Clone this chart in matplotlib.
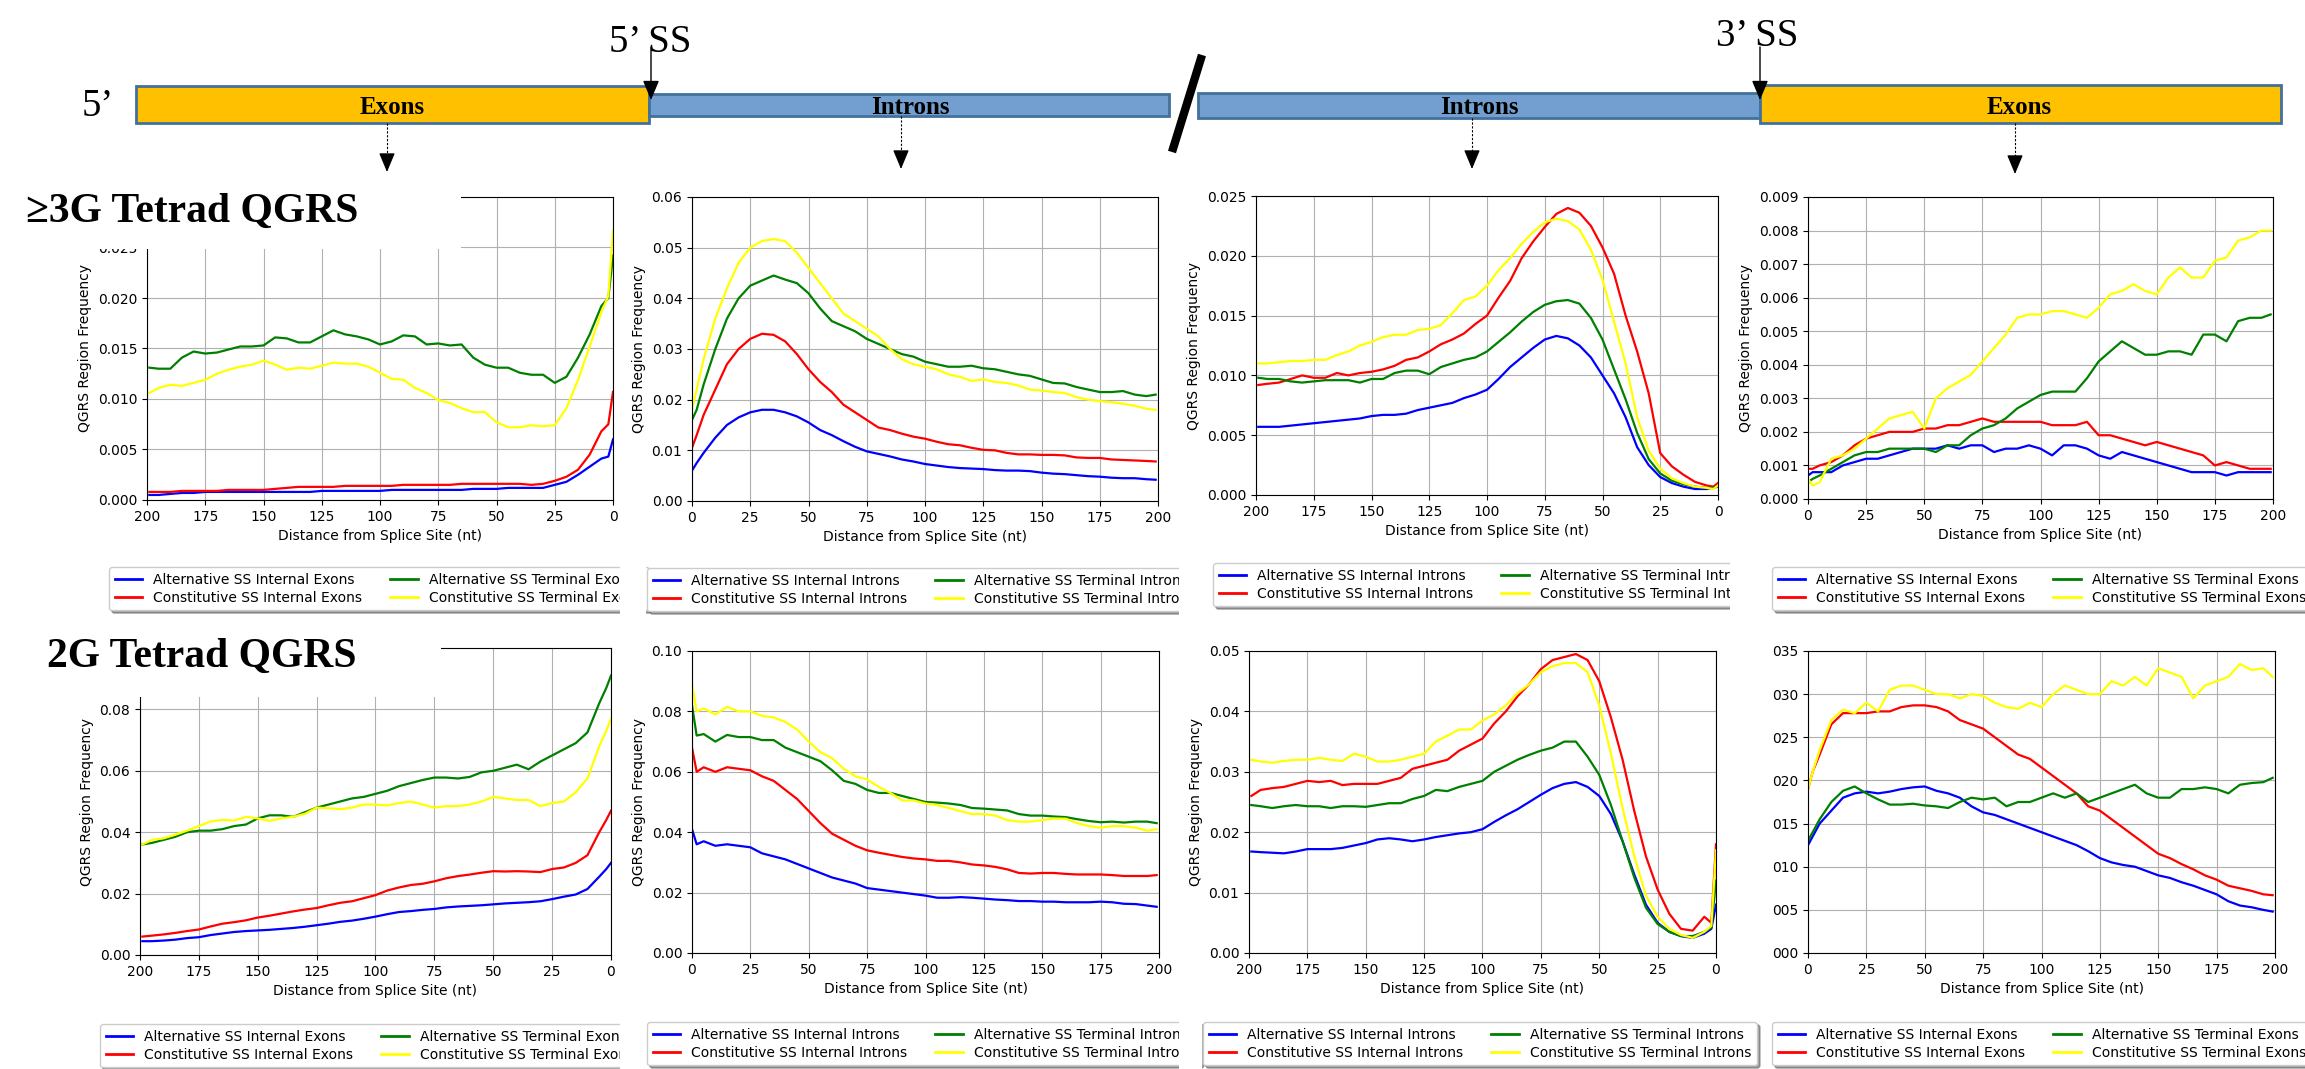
import numpy as np
import matplotlib
matplotlib.use('Agg')
import matplotlib.pyplot as plt
from matplotlib.patches import Rectangle
from matplotlib.lines import Line2D

# distance from splice site (nt) at which values were read
dist = [0, 2, 5, 10, 15, 20, 25, 30, 35, 40, 45, 50, 55, 60, 65, 70, 75, 80, 85, 90, 95,
        100, 105, 110, 115, 120, 125, 130, 135, 140, 145, 150, 155, 160, 165, 170, 175,
        180, 185, 190, 195, 199]

# >=3G tetrad, exons upstream of 5' SS
g3_ex5_alt_int = [0.0060, 0.0043, 0.0041, 0.0033, 0.0025, 0.0018, 0.0015, 0.0012, 0.0012, 0.0012, 0.0012, 0.0011, 0.0011, 0.0011, 0.0010, 0.0010, 0.0010, 0.0010, 0.0010, 0.0010, 0.0010, 0.0009, 0.0009, 0.0009, 0.0009, 0.0009, 0.0009, 0.0008, 0.0008, 0.0008, 0.0008, 0.0008, 0.0008, 0.0008, 0.0008, 0.0008, 0.0008, 0.0007, 0.0007, 0.0006, 0.0005, 0.0005]
g3_ex5_con_int = [0.0107, 0.0075, 0.0068, 0.0045, 0.0030, 0.0023, 0.0019, 0.0016, 0.0015, 0.0016, 0.0016, 0.0016, 0.0016, 0.0016, 0.0016, 0.0015, 0.0015, 0.0015, 0.0015, 0.0015, 0.0014, 0.0014, 0.0014, 0.0014, 0.0014, 0.0013, 0.0013, 0.0013, 0.0013, 0.0012, 0.0011, 0.0010, 0.0010, 0.0010, 0.0010, 0.0009, 0.0009, 0.0009, 0.0009, 0.0008, 0.0008, 0.0008]
g3_ex5_alt_term = [0.0242, 0.0200, 0.0192, 0.0164, 0.0141, 0.0122, 0.0116, 0.0124, 0.0124, 0.0126, 0.0131, 0.0131, 0.0134, 0.0141, 0.0154, 0.0153, 0.0155, 0.0154, 0.0162, 0.0163, 0.0157, 0.0154, 0.0159, 0.0162, 0.0164, 0.0168, 0.0162, 0.0156, 0.0156, 0.0160, 0.0161, 0.0153, 0.0152, 0.0152, 0.0149, 0.0146, 0.0145, 0.0147, 0.0141, 0.0130, 0.0130, 0.0131]
g3_ex5_con_term = [0.0267, 0.0202, 0.0186, 0.0152, 0.0119, 0.0091, 0.0074, 0.0073, 0.0074, 0.0072, 0.0072, 0.0077, 0.0087, 0.0087, 0.0091, 0.0096, 0.0099, 0.0106, 0.0111, 0.0119, 0.0120, 0.0126, 0.0132, 0.0135, 0.0135, 0.0136, 0.0133, 0.0130, 0.0131, 0.0129, 0.0134, 0.0138, 0.0134, 0.0132, 0.0129, 0.0125, 0.0119, 0.0116, 0.0113, 0.0114, 0.0111, 0.0106]

# >=3G tetrad, introns downstream of 5' SS
g3_in5_alt_int = [0.006, 0.0075, 0.0095, 0.0125, 0.015, 0.0165, 0.0175, 0.018, 0.018, 0.0175, 0.0167, 0.0155, 0.014, 0.013, 0.0118, 0.0107, 0.0098, 0.0093, 0.0088, 0.0082, 0.0078, 0.0073, 0.007, 0.0067, 0.0065, 0.0064, 0.0063, 0.0061, 0.006, 0.006, 0.0059, 0.0056, 0.0054, 0.0053, 0.0051, 0.0049, 0.0048, 0.0046, 0.0045, 0.0045, 0.0043, 0.0042]
g3_in5_con_int = [0.0105, 0.013, 0.017, 0.022, 0.027, 0.030, 0.032, 0.033, 0.0328, 0.0315, 0.029, 0.026, 0.0235, 0.0215, 0.019, 0.0175, 0.016, 0.0145, 0.014, 0.0133, 0.0127, 0.0123, 0.0117, 0.0112, 0.011, 0.0105, 0.0101, 0.010, 0.0095, 0.0092, 0.0092, 0.0091, 0.0091, 0.009, 0.0086, 0.0085, 0.0085, 0.0082, 0.0081, 0.008, 0.0079, 0.0078]
g3_in5_alt_term = [0.016, 0.018, 0.023, 0.030, 0.036, 0.040, 0.0425, 0.0435, 0.0445, 0.0437, 0.043, 0.041, 0.038, 0.0355, 0.0345, 0.0335, 0.032, 0.031, 0.030, 0.029, 0.0285, 0.0275, 0.027, 0.0265, 0.0265, 0.0267, 0.0262, 0.026, 0.0255, 0.025, 0.0247, 0.024, 0.0233, 0.0232, 0.0225, 0.022, 0.0215, 0.0215, 0.0217, 0.021, 0.0207, 0.021]
g3_in5_con_term = [0.018, 0.022, 0.028, 0.036, 0.042, 0.047, 0.050, 0.0513, 0.0517, 0.0513, 0.049, 0.046, 0.043, 0.040, 0.037, 0.0355, 0.034, 0.0325, 0.030, 0.028, 0.027, 0.0265, 0.026, 0.025, 0.0245, 0.0237, 0.024, 0.0235, 0.0233, 0.0228, 0.022, 0.0218, 0.0215, 0.0213, 0.0205, 0.020, 0.0197, 0.0195, 0.0192, 0.0188, 0.0182, 0.018]

# >=3G tetrad, introns upstream of 3' SS
g3_in3_alt_int = [0.0007, 0.0006, 0.0005, 0.0005, 0.0007, 0.001, 0.0015, 0.0025, 0.004, 0.0065, 0.0085, 0.010, 0.0115, 0.0125, 0.0131, 0.0133, 0.013, 0.0123, 0.0115, 0.0107, 0.0097, 0.0088, 0.0084, 0.0081, 0.0077, 0.0075, 0.0073, 0.0071, 0.0068, 0.0067, 0.0067, 0.0066, 0.0064, 0.0063, 0.0062, 0.0061, 0.006, 0.0059, 0.0058, 0.0057, 0.0057, 0.0057]
g3_in3_con_int = [0.0010, 0.0007, 0.0008, 0.0011, 0.0017, 0.0024, 0.0035, 0.0085, 0.012, 0.015, 0.0185, 0.0207, 0.0225, 0.0236, 0.0240, 0.0235, 0.0224, 0.0212, 0.0198, 0.0179, 0.0165, 0.015, 0.0143, 0.0135, 0.013, 0.0126, 0.012, 0.0115, 0.0113, 0.0108, 0.0105, 0.0103, 0.0102, 0.0100, 0.0102, 0.0098, 0.0098, 0.0100, 0.0097, 0.0094, 0.0093, 0.0092]
g3_in3_alt_term = [0.0008, 0.0006, 0.0006, 0.0007, 0.0009, 0.0012, 0.0018, 0.003, 0.0052, 0.008, 0.0105, 0.013, 0.0148, 0.016, 0.0163, 0.0162, 0.0159, 0.0153, 0.0145, 0.0136, 0.0128, 0.012, 0.0115, 0.0113, 0.011, 0.0107, 0.0101, 0.0104, 0.0104, 0.0102, 0.0097, 0.0097, 0.0094, 0.0096, 0.0096, 0.0096, 0.0095, 0.0094, 0.0095, 0.0097, 0.0097, 0.0098]
g3_in3_con_term = [0.0008, 0.0005, 0.0006, 0.0007, 0.001, 0.0014, 0.0022, 0.0037, 0.0065, 0.011, 0.0145, 0.018, 0.0205, 0.0222, 0.0229, 0.0231, 0.0228, 0.022, 0.021, 0.0198, 0.0188, 0.0175, 0.0166, 0.0163, 0.0152, 0.0142, 0.0139, 0.0138, 0.0134, 0.0134, 0.0132, 0.0128, 0.0125, 0.012, 0.0117, 0.0113, 0.0113, 0.0112, 0.0112, 0.0111, 0.011, 0.011]

# >=3G tetrad, exons downstream of 3' SS
g3_ex3_alt_int = [0.0007, 0.0008, 0.0008, 0.0008, 0.0010, 0.0011, 0.0012, 0.0012, 0.0013, 0.0014, 0.0015, 0.0015, 0.0015, 0.0016, 0.0015, 0.0016, 0.0016, 0.0014, 0.0015, 0.0015, 0.0016, 0.0015, 0.0013, 0.0016, 0.0016, 0.0015, 0.0013, 0.0012, 0.0014, 0.0013, 0.0012, 0.0011, 0.0010, 0.0009, 0.0008, 0.0008, 0.0008, 0.0007, 0.0008, 0.0008, 0.0008, 0.0008]
g3_ex3_con_int = [0.0009, 0.0009, 0.0010, 0.0011, 0.0013, 0.0016, 0.0018, 0.0019, 0.0020, 0.0020, 0.0020, 0.0021, 0.0021, 0.0022, 0.0022, 0.0023, 0.0024, 0.0023, 0.0023, 0.0023, 0.0023, 0.0023, 0.0022, 0.0022, 0.0022, 0.0023, 0.0019, 0.0019, 0.0018, 0.0017, 0.0016, 0.0017, 0.0016, 0.0015, 0.0014, 0.0013, 0.0010, 0.0011, 0.0010, 0.0009, 0.0009, 0.0009]
g3_ex3_alt_term = [0.0005, 0.0006, 0.0007, 0.0009, 0.0011, 0.0013, 0.0014, 0.0014, 0.0015, 0.0015, 0.0015, 0.0015, 0.0014, 0.0016, 0.0016, 0.0019, 0.0021, 0.0022, 0.0024, 0.0027, 0.0029, 0.0031, 0.0032, 0.0032, 0.0032, 0.0036, 0.0041, 0.0044, 0.0047, 0.0045, 0.0043, 0.0043, 0.0044, 0.0044, 0.0043, 0.0049, 0.0049, 0.0047, 0.0053, 0.0054, 0.0054, 0.0055]
g3_ex3_con_term = [0.0006, 0.0004, 0.0005, 0.0012, 0.0013, 0.0015, 0.0018, 0.0021, 0.0024, 0.0025, 0.0026, 0.0021, 0.0030, 0.0033, 0.0035, 0.0037, 0.0041, 0.0045, 0.0049, 0.0054, 0.0055, 0.0055, 0.0056, 0.0056, 0.0055, 0.0054, 0.0057, 0.0061, 0.0062, 0.0064, 0.0062, 0.0061, 0.0066, 0.0069, 0.0066, 0.0066, 0.0071, 0.0072, 0.0077, 0.0078, 0.0080, 0.0080]

# 2G tetrad, exons upstream of 5' SS
g2_ex5_alt_int = [0.030, 0.028, 0.0255, 0.0215, 0.0197, 0.019, 0.0182, 0.0175, 0.0172, 0.017, 0.0168, 0.0165, 0.0162, 0.016, 0.0158, 0.0155, 0.015, 0.0147, 0.0143, 0.014, 0.0133, 0.0125, 0.0118, 0.0112, 0.0108, 0.0102, 0.0097, 0.0092, 0.0088, 0.0085, 0.0082, 0.008, 0.0078, 0.0075, 0.007, 0.0065, 0.0058, 0.0055, 0.005, 0.0047, 0.0045, 0.0045]
g2_ex5_con_int = [0.047, 0.044, 0.040, 0.0325, 0.030, 0.0285, 0.028, 0.027, 0.0272, 0.0273, 0.0272, 0.0273, 0.0268, 0.0262, 0.0257, 0.025, 0.024, 0.0232, 0.0228, 0.022, 0.021, 0.0195, 0.0185, 0.0175, 0.017, 0.0162, 0.0153, 0.0148, 0.0142, 0.0135, 0.0128, 0.0122, 0.0113, 0.0107, 0.0102, 0.0093, 0.0083, 0.0078, 0.0072, 0.0067, 0.0063, 0.006]
g2_ex5_alt_term = [0.091, 0.087, 0.082, 0.0725, 0.069, 0.067, 0.065, 0.063, 0.0605, 0.062, 0.061, 0.060, 0.0595, 0.058, 0.0575, 0.0578, 0.0578, 0.057, 0.056, 0.055, 0.0535, 0.0525, 0.0515, 0.051, 0.050, 0.049, 0.048, 0.0465, 0.045, 0.0455, 0.0455, 0.0445, 0.0425, 0.042, 0.041, 0.0405, 0.0405, 0.040, 0.0385, 0.0375, 0.0365, 0.036]
g2_ex5_con_term = [0.077, 0.073, 0.068, 0.0575, 0.053, 0.050, 0.0495, 0.0485, 0.0505, 0.0505, 0.051, 0.0515, 0.050, 0.049, 0.0485, 0.0485, 0.048, 0.049, 0.050, 0.0495, 0.0487, 0.049, 0.049, 0.048, 0.0475, 0.0478, 0.048, 0.046, 0.045, 0.0445, 0.0437, 0.0445, 0.045, 0.0438, 0.044, 0.0435, 0.042, 0.0405, 0.0392, 0.038, 0.0375, 0.036]

# 2G tetrad, introns downstream of 5' SS
g2_in5_alt_int = [0.041, 0.036, 0.037, 0.0355, 0.036, 0.0355, 0.035, 0.033, 0.032, 0.031, 0.0295, 0.028, 0.0265, 0.025, 0.024, 0.023, 0.0215, 0.021, 0.0205, 0.020, 0.0195, 0.019, 0.0183, 0.0183, 0.0185, 0.0183, 0.018, 0.0177, 0.0175, 0.0172, 0.0172, 0.017, 0.017, 0.0168, 0.0168, 0.0168, 0.017, 0.0168, 0.0163, 0.0162, 0.0157, 0.0153]
g2_in5_con_int = [0.068, 0.060, 0.0615, 0.060, 0.0615, 0.061, 0.0605, 0.0585, 0.057, 0.054, 0.051, 0.047, 0.043, 0.0395, 0.0375, 0.0355, 0.034, 0.0332, 0.0325, 0.0318, 0.0313, 0.031, 0.0305, 0.0305, 0.030, 0.0293, 0.029, 0.0285, 0.0277, 0.0265, 0.0263, 0.0265, 0.0265, 0.0262, 0.026, 0.026, 0.026, 0.0258, 0.0255, 0.0255, 0.0255, 0.0258]
g2_in5_alt_term = [0.082, 0.072, 0.0725, 0.070, 0.0722, 0.0715, 0.0715, 0.0705, 0.0705, 0.068, 0.0665, 0.065, 0.0635, 0.0605, 0.057, 0.056, 0.054, 0.053, 0.053, 0.052, 0.051, 0.050, 0.0498, 0.0495, 0.049, 0.048, 0.0478, 0.0475, 0.0472, 0.046, 0.0455, 0.0455, 0.0452, 0.045, 0.0443, 0.0437, 0.0433, 0.0435, 0.0432, 0.0435, 0.0435, 0.043]
g2_in5_con_term = [0.089, 0.080, 0.081, 0.079, 0.0815, 0.080, 0.080, 0.0785, 0.078, 0.0765, 0.074, 0.070, 0.0665, 0.0645, 0.061, 0.0585, 0.0575, 0.055, 0.053, 0.0505, 0.0505, 0.0495, 0.049, 0.048, 0.047, 0.046, 0.046, 0.0455, 0.044, 0.0435, 0.0435, 0.044, 0.0445, 0.0445, 0.043, 0.042, 0.0415, 0.042, 0.042, 0.0415, 0.0405, 0.041]

# 2G tetrad, introns upstream of 3' SS
g2_in3_alt_int = [0.008, 0.004, 0.0032, 0.0025, 0.0028, 0.0035, 0.005, 0.008, 0.013, 0.0185, 0.023, 0.026, 0.0275, 0.0283, 0.028, 0.0273, 0.0262, 0.025, 0.0238, 0.0228, 0.0217, 0.0205, 0.020, 0.0198, 0.0195, 0.0192, 0.0188, 0.0185, 0.0188, 0.019, 0.0188, 0.0182, 0.0178, 0.0174, 0.0172, 0.0172, 0.0172, 0.0168, 0.0165, 0.0166, 0.0167, 0.0168]
g2_in3_con_int = [0.018, 0.005, 0.006, 0.0037, 0.004, 0.0065, 0.0105, 0.016, 0.0235, 0.032, 0.039, 0.045, 0.0485, 0.0495, 0.049, 0.0485, 0.047, 0.0445, 0.0425, 0.040, 0.038, 0.0355, 0.0345, 0.0335, 0.032, 0.0315, 0.031, 0.0305, 0.029, 0.0285, 0.028, 0.028, 0.028, 0.0278, 0.0285, 0.0283, 0.0285, 0.028, 0.0275, 0.0273, 0.027, 0.026]
g2_in3_alt_term = [0.012, 0.0042, 0.0035, 0.0028, 0.0028, 0.0035, 0.0048, 0.0075, 0.0125, 0.0185, 0.0245, 0.0295, 0.0325, 0.035, 0.035, 0.034, 0.0335, 0.0328, 0.032, 0.031, 0.030, 0.0285, 0.028, 0.0275, 0.0268, 0.027, 0.026, 0.0255, 0.0248, 0.0248, 0.0245, 0.0242, 0.0243, 0.0243, 0.024, 0.0243, 0.0243, 0.0245, 0.0243, 0.024, 0.0243, 0.0245]
g2_in3_con_term = [0.017, 0.0045, 0.0035, 0.0025, 0.003, 0.004, 0.006, 0.0095, 0.016, 0.024, 0.033, 0.041, 0.0465, 0.048, 0.048, 0.0475, 0.0465, 0.0445, 0.043, 0.041, 0.0395, 0.0385, 0.037, 0.037, 0.036, 0.035, 0.033, 0.0325, 0.032, 0.0317, 0.0317, 0.0325, 0.033, 0.0318, 0.032, 0.0323, 0.032, 0.032, 0.0318, 0.0315, 0.0317, 0.032]

# 2G tetrad, exons downstream of 3' SS
g2_ex3_alt_int = [0.0125, 0.0135, 0.015, 0.0165, 0.018, 0.0185, 0.0187, 0.0185, 0.0187, 0.019, 0.0192, 0.0193, 0.0188, 0.0185, 0.018, 0.017, 0.0163, 0.016, 0.0155, 0.015, 0.0145, 0.014, 0.0135, 0.013, 0.0125, 0.0118, 0.011, 0.0105, 0.0102, 0.010, 0.0095, 0.009, 0.0087, 0.0082, 0.0078, 0.0073, 0.0068, 0.006, 0.0055, 0.0053, 0.005, 0.0048]
g2_ex3_con_int = [0.019, 0.021, 0.023, 0.0265, 0.0278, 0.0278, 0.0278, 0.028, 0.028, 0.0285, 0.0287, 0.0287, 0.0285, 0.028, 0.027, 0.0265, 0.026, 0.025, 0.024, 0.023, 0.0225, 0.0215, 0.0205, 0.0195, 0.0185, 0.017, 0.0165, 0.0155, 0.0145, 0.0135, 0.0125, 0.0115, 0.011, 0.0103, 0.0097, 0.009, 0.0085, 0.0078, 0.0075, 0.0072, 0.0068, 0.0067]
g2_ex3_alt_term = [0.013, 0.014, 0.0155, 0.0175, 0.0188, 0.0193, 0.0185, 0.0178, 0.0172, 0.0172, 0.0173, 0.0171, 0.017, 0.0168, 0.0175, 0.018, 0.0178, 0.018, 0.017, 0.0175, 0.0175, 0.018, 0.0185, 0.018, 0.0185, 0.0175, 0.018, 0.0185, 0.019, 0.0195, 0.0185, 0.018, 0.018, 0.019, 0.019, 0.0192, 0.019, 0.0185, 0.0195, 0.0197, 0.0198, 0.0203]
g2_ex3_con_term = [0.019, 0.021, 0.0235, 0.027, 0.0282, 0.0278, 0.029, 0.028, 0.0305, 0.031, 0.031, 0.0305, 0.030, 0.030, 0.0295, 0.030, 0.0298, 0.029, 0.0285, 0.0283, 0.029, 0.0285, 0.030, 0.031, 0.0305, 0.030, 0.030, 0.0315, 0.031, 0.032, 0.031, 0.033, 0.0325, 0.032, 0.0295, 0.031, 0.0315, 0.032, 0.0335, 0.0328, 0.033, 0.032]

colors = ['blue', 'red', 'green', 'yellow']
cropped_ticks = ['000', '005', '010', '015', '020', '025', '030', '035']

W, H = 2305, 1069
fig = plt.figure(figsize=(W / 100, H / 100), dpi=100)
serif = ['Liberation Serif', 'DejaVu Serif']


def rect(l, t, r, b):
    return [l / W, 1 - b / H, (r - l) / W, (b - t) / H]


def panel(pos, series, ytop, step, reverse, ylabel=True, ticklabels=None, last_tick=None):
    ax = fig.add_axes(rect(*pos))
    for s, c in zip(series, colors):
        ax.plot(dist, s, color=c, lw=1.6)
    ax.set_xlim((200, 0) if reverse else (0, 200))
    ax.set_xticks(range(0, 201, 25))
    ax.set_ylim(0, ytop)
    # top tick of the left panels sits under the title box, so it is left out
    top = last_tick if last_tick is not None else ytop
    ax.set_yticks(np.linspace(0, top, int(round(top / step)) + 1))
    if ticklabels:
        ax.set_yticklabels(ticklabels)
    ax.grid(True, color='#b0b0b0', lw=0.8)
    ax.set_xlabel('Distance from Splice Site (nt)')
    if ylabel:
        ax.set_ylabel('QGRS Region Frequency')
    return ax


def legend(x, y, kind):
    handles = [Line2D([], [], color=c, lw=2) for c in colors]
    labels = ['Alternative SS Internal ' + kind, 'Constitutive SS Internal ' + kind,
              'Alternative SS Terminal ' + kind, 'Constitutive SS Terminal ' + kind]
    fig.legend(handles, labels, loc='upper left', bbox_to_anchor=(x / W, 1 - y / H),
               ncol=2, fontsize=10, shadow=True, framealpha=1, borderaxespad=0,
               labelspacing=0.3)


# row 1: >=3G tetrad
panel((147, 197, 613, 500), [g3_ex5_alt_int, g3_ex5_con_int, g3_ex5_alt_term, g3_ex5_con_term], 0.030, 0.005, True, last_tick=0.025)
panel((692, 197, 1158, 501), [g3_in5_alt_int, g3_in5_con_int, g3_in5_alt_term, g3_in5_con_term], 0.06, 0.01, False)
panel((1256, 196, 1718, 495), [g3_in3_alt_int, g3_in3_con_int, g3_in3_alt_term, g3_in3_con_term], 0.025, 0.005, True)
panel((1808, 197, 2273, 499), [g3_ex3_alt_int, g3_ex3_con_int, g3_ex3_alt_term, g3_ex3_con_term], 0.009, 0.001, False)

# row 2: 2G tetrad
panel((140, 648, 611, 955), [g2_ex5_alt_int, g2_ex5_con_int, g2_ex5_alt_term, g2_ex5_con_term], 0.10, 0.02, True, last_tick=0.08)
panel((692, 651, 1159, 953), [g2_in5_alt_int, g2_in5_con_int, g2_in5_alt_term, g2_in5_con_term], 0.10, 0.02, False)
panel((1249, 651, 1716, 953), [g2_in3_alt_int, g2_in3_con_int, g2_in3_alt_term, g2_in3_con_term], 0.05, 0.01, True)
panel((1808, 651, 2275, 953), [g2_ex3_alt_int, g2_ex3_con_int, g2_ex3_alt_term, g2_ex3_con_term], 0.035, 0.005, False,
      ylabel=False, ticklabels=cropped_ticks)

legend(109, 567, 'Exons')
legend(647, 568, 'Introns')
legend(1213, 563, 'Introns')
legend(1772, 567, 'Exons')
legend(100, 1024, 'Exons')
legend(647, 1022, 'Introns')
legend(1203, 1022, 'Introns')
legend(1772, 1022, 'Exons')

# overlay for the gene diagram, titles and the cropped edges
ov = fig.add_axes([0, 0, 1, 1], zorder=10)
ov.set_xlim(0, W)
ov.set_ylim(H, 0)
ov.axis('off')

for x0, y0, x1, y1 in [(620, 550, 646, 630), (1179, 550, 1212, 630), (1730, 550, 1771, 630),
                       (620, 1005, 646, 1069), (1179, 1005, 1202, 1069)]:
    ov.add_patch(Rectangle((x0, y0), x1 - x0, y1 - y0, fc='white', ec='none'))

ov.add_patch(Rectangle((0, 182), 461, 67, fc='white', ec='none'))
ov.add_patch(Rectangle((0, 634), 441, 63, fc='white', ec='none'))
ov.text(26, 212, '≥3G Tetrad QGRS', fontsize=30, fontweight='bold', family=serif, va='center')
ov.text(47, 657, '2G Tetrad QGRS', fontsize=30, fontweight='bold', family=serif, va='center')

orange, blue, edge = '#FFC000', '#729FCF', '#41719C'
ov.add_patch(Rectangle((136, 86), 513, 37, fc=orange, ec=edge, lw=2))
ov.add_patch(Rectangle((649, 94), 520, 22, fc=blue, ec=edge, lw=2))
ov.add_patch(Rectangle((1198, 93), 562, 25, fc=blue, ec=edge, lw=2))
ov.add_patch(Rectangle((1760, 85), 521, 38, fc=orange, ec=edge, lw=2))
for x, label in [(392, 'Exons'), (910, 'Introns'), (1479, 'Introns'), (2019, 'Exons')]:
    ov.text(x, 108, label, fontsize=18, fontweight='bold', family=serif, ha='center', va='center')

ov.text(98, 107, '5’', fontsize=28, family=serif, ha='center', va='center')
ov.text(650, 42, '5’ SS', fontsize=28, family=serif, ha='center', va='center')
ov.text(1757, 36, '3’ SS', fontsize=28, family=serif, ha='center', va='center')
ov.plot([1202, 1172], [55, 152], color='black', lw=6, solid_capstyle='butt')

head = '-|>,head_length=0.6,head_width=0.25'
for x in [651, 1760]:
    ov.annotate('', xy=(x, 100), xytext=(x, 47),
                arrowprops=dict(arrowstyle=head, color='black', lw=1, mutation_scale=20, shrinkA=0, shrinkB=0))
for x, y0, y1 in [(387, 123, 172), (901, 116, 169), (1472, 118, 169), (2015, 123, 174)]:
    ov.plot([x, x], [y0, y1 - 12], color='black', lw=0.8, ls=(0, (2, 1.5)))
    ov.annotate('', xy=(x, y1), xytext=(x, y1 - 12),
                arrowprops=dict(arrowstyle=head, color='black', lw=0.8, mutation_scale=20, shrinkA=0, shrinkB=0))

fig.savefig('out.png', dpi=100)
